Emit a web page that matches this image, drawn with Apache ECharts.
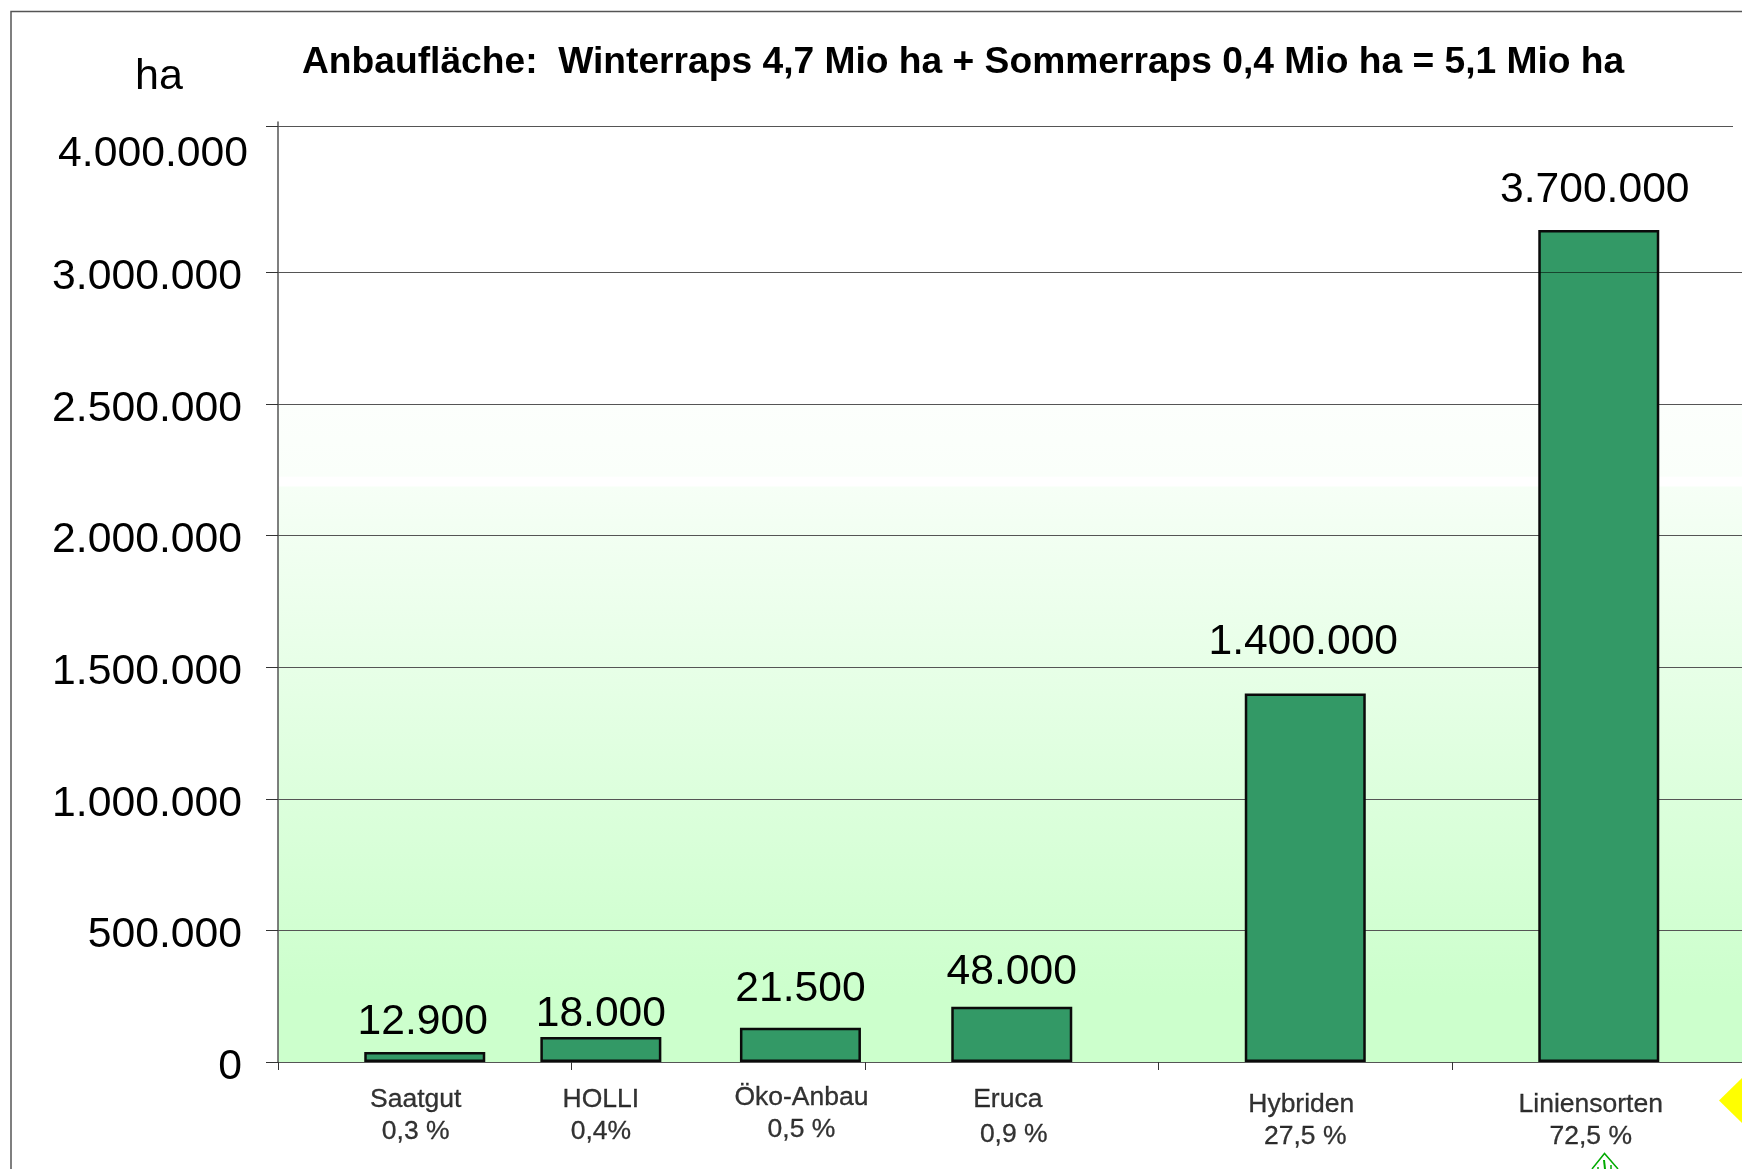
<!DOCTYPE html>
<html>
<head>
<meta charset="utf-8">
<title>Anbaufläche Raps</title>
<script src="https://cdn.jsdelivr.net/npm/echarts@6/dist/echarts.min.js"></script>
<style>
  html, body { margin: 0; padding: 0; background: #fff; }
  #chart { width: 1742px; height: 1169px; }
</style>
</head>
<body>
<div id="chart"></div>
<script>
// Werte aus dem Bild
const categories = ['Saatgut', 'HOLLI', 'Öko-Anbau', 'Eruca', 'Hybriden', 'Liniensorten'];
const shares = ['0,3 %', '0,4%', '0,5 %', '0,9 %', '27,5 %', '72,5 %'];
const printedValues = ['12.900', '18.000', '21.500', '48.000', '1.400.000', '3.700.000'];
// Balkenhoehen wie gezeichnet (weichen im Original von der Beschriftung ab)
const drawnValues = [38000, 95000, 130000, 210000, 1400000, 3161000];
// Balkenposition auf der x-Achse, in Achsenfeldern
const slots = [0.5, 1.1, 1.78, 2.5, 3.5, 4.5];
const xTicks = [0, 1, 2, 3, 4];
const yTickValues = [0, 500000, 1000000, 1500000, 2000000, 2500000, 3000000];
const yTickLabels = ['0', '500.000', '1.000.000', '1.500.000', '2.000.000', '2.500.000', '3.000.000', '4.000.000'];

const topLineValue = 3553000;
const topLabelValue = 3448000;
const yMax = 3571000;
const xMax = 4.988;
const yLabelValues = yTickValues.concat([topLabelValue]);

// Feinjustierung der Beschriftungen in Pixel
const valueOffsets = [[-2, -9], [0, -2], [0, -18], [0, -13], [-2, -30], [-4, -19]];
const nameOffsets = [[-9, 38], [0, 38], [1, 36], [-4, 38], [-4, 43], [-8, 43]];
const shareOffsets = [[-9, 70], [0, 70], [1, 68], [2, 73], [0, 75], [-8, 75]];

const labelFont = 'Liberation Sans';

const myChart = echarts.init(document.getElementById('chart'), null, { renderer: 'canvas' });

const option = {
  animation: false,
  backgroundColor: '#fff',
  textStyle: { fontFamily: labelFont },
  title: [
    {
      text: 'Anbaufläche:  Winterraps 4,7 Mio ha + Sommerraps 0,4 Mio ha = 5,1 Mio ha',
      left: 297,
      top: 39,
      textStyle: { fontFamily: labelFont, fontSize: 37.2, fontWeight: 'bold', color: '#000' },
    },
    {
      text: 'ha',
      left: 130,
      top: 51,
      textStyle: { fontFamily: labelFont, fontSize: 43, fontWeight: 'normal', color: '#000' },
    },
  ],
  grid: { left: 278, right: 0, top: 122, bottom: 107 },
  xAxis: {
    type: 'value',
    min: 0,
    max: xMax,
    z: 2,
    splitLine: { show: false },
    axisLine: { show: true, onZero: false, lineStyle: { color: '#555', width: 1 } },
    axisTick: { show: true, customValues: xTicks, length: 8, lineStyle: { color: '#333', width: 1 } },
    axisLabel: { show: false },
  },
  yAxis: {
    type: 'value',
    min: 0,
    max: yMax,
    z: 2,
    axisLine: { show: true, lineStyle: { color: '#555', width: 1.5 } },
    axisTick: {
      show: true,
      customValues: yTickValues.concat([topLineValue]),
      length: 12,
      lineStyle: { color: '#333', width: 1 },
    },
    splitLine: { show: true, lineStyle: { color: '#555', width: 1 } },
    axisLabel: {
      margin: 30,
      customValues: yLabelValues,
      formatter: (value) => {
        const idx = yLabelValues.indexOf(value);
        if (idx === yTickLabels.length - 1) return '{top|' + yTickLabels[idx] + '}';
        return '{std|' + yTickLabels[idx] + '}';
      },
      rich: {
        std: { fontFamily: labelFont, fontSize: 42.7, color: '#000', padding: [10, 6, 0, 0] },
        top: { fontFamily: labelFont, fontSize: 42.7, color: '#000' },
      },
    },
  },
  series: [
    {
      name: 'Flaeche',
      type: 'bar',
      z: 3,
      barWidth: 121,
      itemStyle: { color: '#339966', borderColor: '#0a0a0a', borderWidth: 2.5 },
      label: {
        show: true,
        position: 'top',
        distance: 0,
        fontFamily: labelFont,
        fontSize: 42.6,
        lineHeight: 42,
        color: '#000',
        formatter: (p) => printedValues[p.dataIndex],
      },
      data: drawnValues.map((v, i) => ({
        value: [slots[i], v],
        label: { offset: valueOffsets[i] },
      })),
      markLine: {
        silent: true,
        symbol: 'none',
        label: { show: false },
        data: [
          // durchscheinende 3-Mio-Linie im hohen Balken
          [
            { coord: [4.295, 3000000], lineStyle: { color: 'rgba(0,0,0,0.55)', width: 1, type: 'solid' } },
            { coord: [4.705, 3000000] },
          ],
        ],
      },
    },
    {
      name: 'Kategorien',
      type: 'scatter',
      symbolSize: 0,
      silent: true,
      clip: false,
      z: 4,
      label: {
        show: true,
        position: 'inside',
        fontFamily: labelFont,
        fontSize: 26.5,
        color: '#000',
        textBorderColor: '#000',
        textBorderWidth: 0.3,
        formatter: (p) => categories[p.dataIndex],
      },
      data: slots.map((x, i) => ({ value: [x, 0], label: { offset: nameOffsets[i] } })),
      markArea: {
        silent: true,
        z: 1,
        itemStyle: {
          color: {
            type: 'linear', x: 0, y: 0, x2: 0, y2: 1,
            colorStops: [
              { offset: 0, color: '#fcfffc' },
              { offset: 0.11, color: '#fafffa' },
              { offset: 0.111, color: '#ffffff' },
              { offset: 0.125, color: '#ffffff' },
              { offset: 0.126, color: '#f6fff6' },
              { offset: 0.9, color: '#ccffcc' },
              { offset: 1, color: '#ccffcc' },
            ],
          },
        },
        data: [[{ yAxis: 2500000 }, { yAxis: 0 }]],
      },
    },
    {
      name: 'Anteile',
      type: 'scatter',
      symbolSize: 0,
      silent: true,
      clip: false,
      z: 4,
      label: {
        show: true,
        position: 'inside',
        fontFamily: labelFont,
        fontSize: 26.5,
        color: '#000',
        textBorderColor: '#000',
        textBorderWidth: 0.3,
        formatter: (p) => shares[p.dataIndex],
      },
      data: slots.map((x, i) => ({ value: [x, 0], label: { offset: shareOffsets[i] } })),
    },
  ],
  graphic: [
    // Folienrahmen
    { type: 'polyline', z: 10, silent: true, shape: { points: [[11, 1169], [11, 11.5], [1742, 11.5]] }, style: { stroke: '#555', lineWidth: 1.5, fill: null } },
    // Ausschnitt der oberen Linie endet vor dem Rand
    { type: 'rect', z: 10, silent: true, shape: { x: 1733, y: 125, width: 9, height: 5 }, style: { fill: '#fff' } },
    // gelbe Raute am rechten Rand
    { type: 'polygon', z: 10, silent: true, shape: { points: [[1719, 1100.5], [1745, 1075], [1771, 1100.5], [1745, 1126]] }, style: { fill: '#ffff00' } },
    // Logo unten
    { type: 'polyline', z: 10, silent: true, shape: { points: [[1592, 1169], [1604.5, 1153.5], [1618, 1169]] }, style: { stroke: '#00aa00', lineWidth: 1.5, fill: null } },
    { type: 'polyline', z: 10, silent: true, shape: { points: [[1604, 1160], [1605, 1169]] }, style: { stroke: '#00aa00', lineWidth: 2, fill: null } },
    { type: 'polyline', z: 10, silent: true, shape: { points: [[1598, 1167], [1598, 1169]] }, style: { stroke: '#00aa00', lineWidth: 1.5, fill: null } },
    { type: 'polyline', z: 10, silent: true, shape: { points: [[1611, 1165], [1611, 1169]] }, style: { stroke: '#00aa00', lineWidth: 1.5, fill: null } },
  ],
};

myChart.setOption(option);
</script>
</body>
</html>
